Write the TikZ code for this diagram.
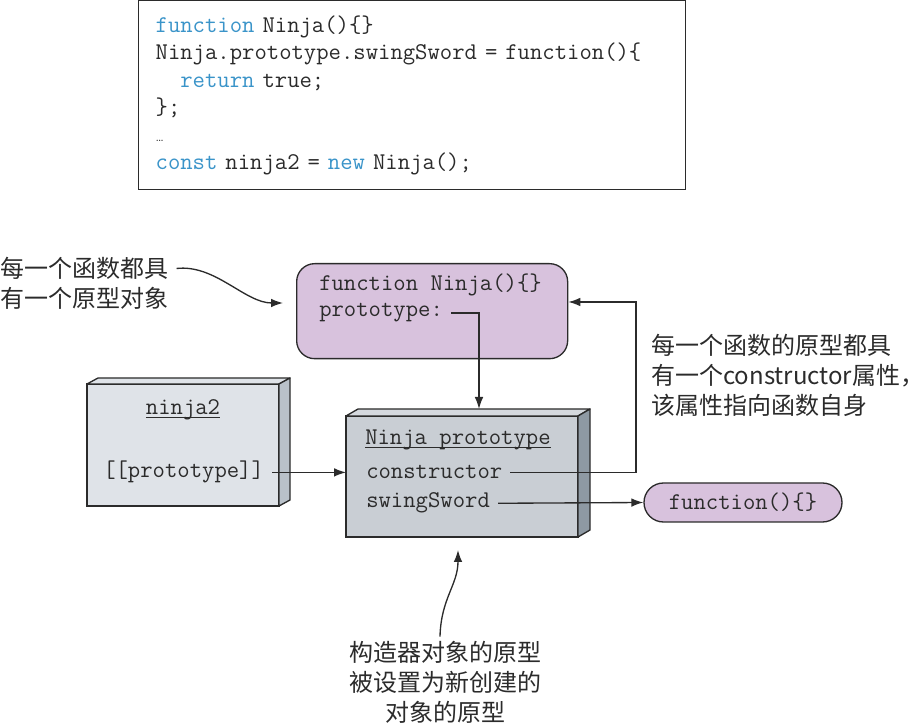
\documentclass[tikz,border=0pt]{standalone}
\usepackage{fontspec}
\newfontfamily\cjk{Noto Sans CJK SC}
\usetikzlibrary{arrows.meta}

\definecolor{kw}{HTML}{3A94C9}
\definecolor{ink}{HTML}{2B2B2B}
\definecolor{lila}{HTML}{D8C2DD}
\definecolor{objlight}{HTML}{DFE3E8}
\definecolor{objlightside}{HTML}{B9C1C9}
\definecolor{objdark}{HTML}{C9CED4}
\definecolor{objdarktop}{HTML}{D5D9DE}
\definecolor{objdarkside}{HTML}{8E99A3}

\newcommand{\codefont}{\ttfamily\fontsize{18}{20.5}\selectfont}
\newcommand{\notefont}{\cjk\fontsize{18}{22.5}\selectfont}
% underline that sits just under the baseline
\newcommand{\uln}[1]{\setbox0\hbox{#1}\rlap{\rule[-2.6pt]{\wd0}{0.8pt}}\box0}

\begin{document}
\begin{tikzpicture}[
    x=0.75pt, y=-0.75pt,
    >={Latex[length=9pt,width=6.5pt]},
    every node/.style={text=ink},
    codebox/.style={draw=ink, line width=1pt, fill=white, align=left, font=\codefont},
    codetxt/.style={font=\codefont, inner xsep=6pt, inner ysep=2pt},
    fnshape/.style={draw=ink, line width=1pt, fill=lila, rounded corners=13.5pt},
    pill/.style={fnshape, rounded corners=14.6pt, font=\codefont, minimum width=148.5pt, minimum height=29.25pt},
    obj/.style={draw=ink, line width=1pt, anchor=north west, outer sep=0pt},
    face/.style={draw=ink, line width=1pt, line join=round},
    note/.style={font=\notefont, inner sep=0pt},
    arr/.style={->, line width=1pt, draw=ink}
]
    \useasboundingbox (0,0) rectangle (922,723);

    % code
    \node[codebox, anchor=north west, minimum width=410.25pt, minimum height=141.75pt,
          text width=384.75pt, inner xsep=12.75pt] (code) at (138,0) {%
        \textcolor{kw}{function} Ninja()\{\}\\
        Ninja.prototype.swingSword = function()\{\\
        \phantom{xx}\textcolor{kw}{return} true;\\
        \};\\
        {\rmfamily\fontsize{9}{9}\selectfont\textellipsis}\\
        \textcolor{kw}{const} ninja2 = \textcolor{kw}{new} Ninja();};

    % function Ninja
    \node[fnshape, anchor=north west, minimum width=203.25pt, minimum height=71.25pt] (fnbox) at (296,263) {};
    \node[codetxt, anchor=base west] (fnname)  at (311,291) {function Ninja()\{\}};
    \node[codetxt, anchor=base west] (fnproto) at (311,317) {prototype:};

    % ninja2
    \node[obj, fill=objlight, minimum width=144pt, minimum height=91.5pt] (ninja) at (87,384) {};
    \filldraw[face, fill=objlight] (ninja.north west) -- ++(11,-6) -- ++(192,0) -- (ninja.north east) -- cycle;
    \filldraw[face, fill=objlightside] (ninja.north east) -- ++(11,-6) -- ++(0,122) -- (ninja.south east) -- cycle;
    \node[codetxt, anchor=base] (n2title) at (183,415) {\uln{ninja2}};
    \node[codetxt, anchor=base west] (n2proto) at (95,478) {[[prototype]]};

    % Ninja prototype
    \node[obj, fill=objdark, minimum width=174pt, minimum height=90.75pt] (nproto) at (346,416) {};
    \filldraw[face, fill=objdarktop] (nproto.north west) -- ++(12,-7) -- ++(232,0) -- (nproto.north east) -- cycle;
    \filldraw[face, fill=objdarkside] (nproto.north east) -- ++(12,-7) -- ++(0,121) -- (nproto.south east) -- cycle;
    \node[codetxt, anchor=base west] (nptitle) at (357,445) {\uln{Ninja prototype}};
    \node[codetxt, anchor=base west] (ctor)    at (358,479) {constructor};
    \node[codetxt, anchor=base west] (sword)   at (358,508) {swingSword};

    \node[pill] (fnlit) at (743,502.5) {function()\{\}};

    % notes
    \node[note, anchor=west, align=left] (note1) at (0,283.5) {每一个函数都具\\有一个原型对象};
    \node[note, anchor=west, align=left] (note2) at (651,375)
        {每一个函数的原型都具\\有一个constructor属性，\\该属性指向函数自身};
    \node[note, align=center] (note3) at (445,682) {构造器对象的原型\\被设置为新创建的\\对象的原型};

    \coordinate (nptop)  at (479,409);
    \coordinate (back)   at (636,302);
    \coordinate (n1head) at (283,303);
    \coordinate (n3head) at (458,550);

    % connectors
    \draw[arr] (fnproto.east) -| (nptop);
    \draw[arr] (n2proto.east) -- (n2proto.east -| nproto.west);
    \draw[arr] (ctor.east) -| (back) -- (back -| fnbox.east);
    \draw[arr] (sword.east) -- (fnlit.west);
    \draw[arr] ([shift={(8,-15)}]note1.east) .. controls (215,264) and (245,303) .. (n1head);
    \draw[arr] ([shift={(-5,-4)}]note3.north) .. controls (441,598) and (458,585) .. (n3head);
\end{tikzpicture}
\end{document}
